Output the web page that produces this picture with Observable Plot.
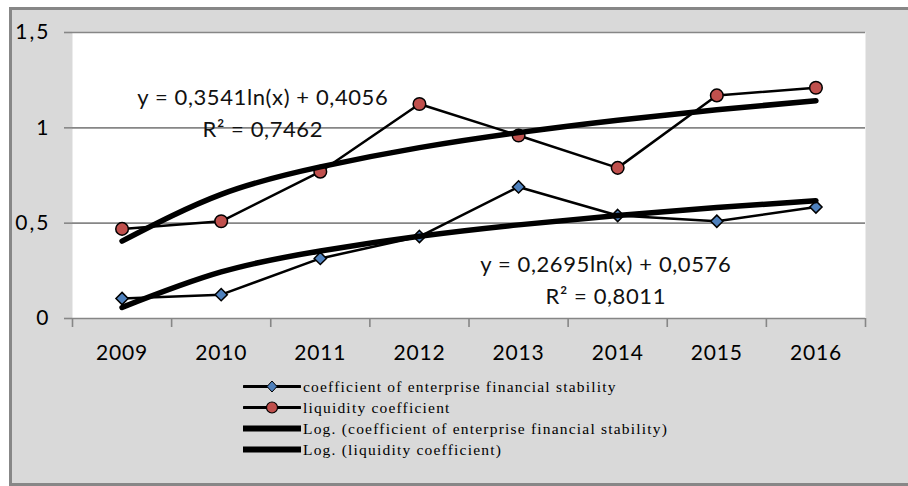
<!DOCTYPE html>
<html><head><meta charset="utf-8">
<script src="https://cdn.jsdelivr.net/npm/d3@7"></script>
<script src="https://cdn.jsdelivr.net/npm/@observablehq/plot@0.6"></script>
<style>
body{margin:0;background:#fff;width:908px;height:486px;overflow:hidden;position:relative}
#frame{position:absolute;left:9px;top:7px;width:920px;height:473px;border:3px solid #878787;border-right:none;background:#d9d9d9}
#chart{position:absolute;left:0;top:0}
#chart g[aria-label="text"] text{letter-spacing:0.6px}
#chart g[aria-label="y-axis tick label"] text{letter-spacing:2px}
#chart g[aria-label="x-axis tick label"] text{letter-spacing:0.8px}
#legend{position:absolute;left:243px;top:376px;font-family:"Liberation Serif",serif;font-size:15.5px;letter-spacing:1.2px;color:#000}
.row{display:flex;align-items:center;height:21px;white-space:nowrap}
.row svg{display:block;margin-right:2px}
</style></head><body>
<div id="frame"></div><div id="chart"></div><div id="legend"></div>
<script>
const years = [2009, 2010, 2011, 2012, 2013, 2014, 2015, 2016];
const stability = [0.105, 0.125, 0.315, 0.43, 0.69, 0.54, 0.51, 0.585];
const liquidity = [0.47, 0.51, 0.77, 1.125, 0.96, 0.79, 1.17, 1.21];
const stabilityTrend = [0.058, 0.244, 0.354, 0.431, 0.491, 0.540, 0.582, 0.618];
const liquidityTrend = [0.406, 0.651, 0.795, 0.896, 0.975, 1.040, 1.095, 1.142];
const yTicks = [0, 0.5, 1, 1.5];
const yTickLabels = ["0", "0,5", "1", "1,5"];
const seriesNames = [
  "coefficient of enterprise financial stability",
  "liquidity coefficient",
  "Log. (coefficient of enterprise financial stability)",
  "Log. (liquidity coefficient)"
];
const equationLines = [
  {text: "y = 0,3541ln(x) + 0,4056", x: 2010.42, y: 1.157},
  {text: "R² = 0,7462", x: 2010.42, y: 0.99},
  {text: "y = 0,2695ln(x) + 0,0576", x: 2013.88, y: 0.281},
  {text: "R² = 0,8011", x: 2013.88, y: 0.115}
];

const table = years.map((year, i) => ({
  year, stability: stability[i], liquidity: liquidity[i],
  stabilityTrend: stabilityTrend[i], liquidityTrend: liquidityTrend[i]
}));
const boundaries = years.map(y => y - 0.5).concat([years[years.length - 1] + 0.5]);
const gray = "#868686";

const chart = Plot.plot({
  width: 908, height: 372,
  marginLeft: 72, marginRight: 43, marginTop: 32, marginBottom: 54,
  style: {fontFamily: "Lato, sans-serif", fontSize: "21px", background: "transparent", color: "black"},
  x: {domain: [boundaries[0], boundaries[boundaries.length - 1]]},
  y: {domain: [0, 1.5]},
  marks: [
    Plot.frame({fill: "white", stroke: "none"}),
    Plot.gridY(yTicks, {stroke: gray, strokeOpacity: 1, strokeWidth: 1.6}),
    Plot.axisY(yTicks, {tickSize: 8, tickPadding: 14, stroke: gray, strokeWidth: 1.6, fill: "black",
      tickFormat: d => yTickLabels[yTicks.indexOf(d)], label: null, fontSize: 21}),
    Plot.axisX(boundaries, {tickSize: 9, stroke: gray, strokeWidth: 1.6, tickFormat: () => "", label: null}),
    Plot.axisX(years, {tickSize: 0, tickPadding: 27, fill: "black", tickFormat: d => String(d), label: null, fontSize: 21}),
    Plot.line(table, {x: "year", y: "stability", stroke: "black", strokeWidth: 2.5}),
    Plot.line(table, {x: "year", y: "liquidity", stroke: "black", strokeWidth: 2.5}),
    Plot.dot(table, {x: "year", y: "stability", symbol: "diamond2", r: 5.5, fill: "#4f81bd", stroke: "black", strokeWidth: 1.5}),
    Plot.dot(table, {x: "year", y: "liquidity", symbol: "circle", r: 6.3, fill: "#c0504d", stroke: "black", strokeWidth: 1.5}),
    Plot.line(table, {x: "year", y: "stabilityTrend", stroke: "black", strokeWidth: 5.5, curve: "natural", strokeLinecap: "round"}),
    Plot.line(table, {x: "year", y: "liquidityTrend", stroke: "black", strokeWidth: 5.5, curve: "natural", strokeLinecap: "round"}),
    Plot.text(equationLines, {x: "x", y: "y", text: "text", fontSize: 22, fill: "#111", textAnchor: "middle"})
  ]
});
document.getElementById("chart").appendChild(chart);

const legend = document.getElementById("legend");
const swatches = [
  {w: 3, marker: "diamond", fill: "#4f81bd"},
  {w: 3, marker: "circle", fill: "#c0504d"},
  {w: 6, marker: null},
  {w: 6, marker: null}
];
seriesNames.forEach((name, i) => {
  const s = swatches[i];
  const row = document.createElement("div");
  row.className = "row";
  let m = "";
  if (s.marker === "diamond") m = `<path d="M29,5 L34,10.5 L29,16 L24,10.5 Z" fill="${s.fill}" stroke="black" stroke-width="1"/>`;
  if (s.marker === "circle") m = `<circle cx="29" cy="10.5" r="5.5" fill="${s.fill}" stroke="black" stroke-width="1.2"/>`;
  row.innerHTML = `<svg width="58" height="21"><line x1="1" x2="57" y1="10.5" y2="10.5" stroke="black" stroke-width="${s.w}" stroke-linecap="round"/>${m}</svg><span>${name}</span>`;
  legend.appendChild(row);
});
</script>
</body></html>
